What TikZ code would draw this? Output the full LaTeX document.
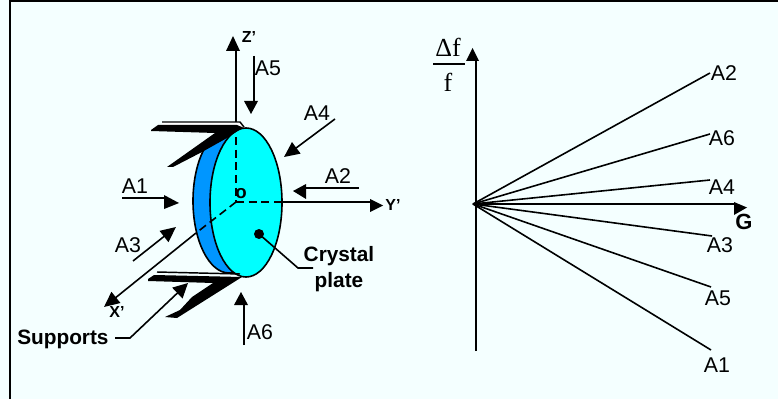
\documentclass[tikz,border=0pt]{standalone}
\usepackage{fontspec}
\setmainfont{Liberation Sans}
\newfontfamily\serifx{Liberation Serif}
\usetikzlibrary{arrows.meta}
\definecolor{bgc}{RGB}{244,255,255}
\definecolor{cyanp}{RGB}{0,255,255}
\definecolor{blueedge}{RGB}{0,150,255}
\newcommand{\headtri}[3]{\fill (#1) -- (#2) -- (#3) -- cycle;}
\tikzset{x=0.75pt,y=-0.75pt,
 lin/.style={line width=1.2pt,-{Triangle[length=11.5pt,width=10.5pt]}},
 lbl/.style={font=\fontsize{16pt}{16pt}\selectfont,inner sep=0pt},
 blbl/.style={font=\fontsize{15.6pt}{19.5pt}\selectfont\bfseries,inner sep=0pt,align=center},
 small/.style={font=\fontsize{12pt}{12pt}\selectfont\bfseries,inner sep=0pt},
 plain/.style={line width=1.2pt},
 dsh/.style={line width=1.2pt,dash pattern=on 6pt off 3.5pt},
 sup/.style={fill=black,draw=none},
 ser/.style={inner sep=0pt,font=\serifx\fontsize{19.5pt}{19.5pt}\selectfont}}
\begin{document}
\begin{tikzpicture}
\useasboundingbox (0,0) rectangle (778,399);
\fill[bgc] (0,0) rectangle (778,399);
\draw[line width=1.3pt] (10,399) -- (10,1) -- (778,1);
% plate
\draw[fill=blueedge,line width=1.2pt] (229,201) ellipse [x radius=36,y radius=72];
\draw[fill=cyanp,line width=1.2pt] (246,202.5) ellipse [x radius=36,y radius=74.5];
% supports top
\fill[white] (162,122) -- (240,122) -- (244,127) -- (237,126) -- (162,126) -- cycle;
\fill[sup] (151,130) -- (158,125) -- (237,125) -- (243,127.5) -- (227,138) -- (202,152) -- (173,167) -- (167,167) -- (215,133) -- (151,131) -- cycle;
\draw[line width=1.1pt] (162,122) -- (240,122) -- (244,127);
% supports bottom
\fill[sup] (148,279) -- (154,275) -- (242,277) -- (177,318) -- (165,317) -- (180,310) -- (192,297) -- (213,283) -- (148,281) -- cycle;
\draw[line width=1.1pt] (157,272) -- (240,274);
% axes
\coordinate (O) at (236,202);
\coordinate (zb) at (236,122);
\coordinate (zt) at (236,50);
\coordinate (zd) at (236,137);
\coordinate (yb) at (282,202);
\coordinate (yt) at (372,202);
\coordinate (xt) at (104,307);
\coordinate (xm) at (196,233);
\draw[dsh] (zd) -- (O);
\draw[dsh] (O) -- (yb);
\draw[dsh] (O) -- (xm);
\draw[plain] (zb) -- (zt);
\headtri{233,36}{226,51}{240,51}
\draw[plain] (yb) -- (yt);
\headtri{383,205.5}{370,199}{370,212}
\draw[lin] (xm) -- (xt);
\node[small] at (249,37) {Z’};
\node[small] at (393,205) {Y’};
\node[small] at (117,312) {X’};
\node[font=\fontsize{14pt}{14pt}\selectfont\bfseries,inner sep=0pt] at (241,193.5) {o};
% direction arrows
\coordinate (a5a) at (254,56); \coordinate (a5b) at (254,103);
\coordinate (a4a) at (335,119); \coordinate (a4b) at (284,157);
\coordinate (a2a) at (359,188); \coordinate (a2b) at (305,188);
\coordinate (a1a) at (122,198); \coordinate (a1b) at (166,198);
\coordinate (a3a) at (133,261); \coordinate (a3b) at (176,227);
\coordinate (a6a) at (244,345); \coordinate (a6b) at (244,304);
\draw[plain] (a5a) -- (a5b);
\headtri{251,114}{244,101}{258,101}
\draw[lin] (a4a) -- (a4b);
\draw[plain] (a2a) -- (a2b);
\headtri{293,191}{306,184}{306,199}
\draw[plain] (a1a) -- (a1b);
\headtri{179,203}{164,195}{164,209}
\draw[lin] (a3a) -- (a3b);
\draw[plain] (a6a) -- (a6b);
\headtri{241,292}{234,305}{248,305}
\node[lbl] at (268,68) {A5};
\node[lbl] at (317,113) {A4};
\node[lbl] at (338,176) {A2};
\node[lbl] at (135,186) {A1};
\node[lbl] at (128,245) {A3};
\node[lbl] at (260,332) {A6};
% crystal label
\node[blbl] (cp) at (339,269) {Crystal\\plate};
\coordinate (cl) at (313,268);
\coordinate (cm) at (298,268);
\coordinate (blob) at (259,234);
\fill (blob) circle (5);
\draw[plain] (blob) -- (cm) -- (cl);
% supports label
\node[blbl,anchor=west] (sl) at (17,339) {Supports};
\coordinate (s1) at (115,338);
\coordinate (s2) at (130,338);
\coordinate (s3) at (188,283);
\draw[plain,-{Triangle[length=11pt,width=11pt]}] (s1) -- (s2) -- (s3);
% graph
\coordinate (G) at (473,204);
\coordinate (gt) at (476,60);
\coordinate (gb) at (476,351);
\coordinate (gr) at (736,204);
\draw[plain] (gb) -- (gt);
\headtri{472.5,48}{466,61}{479,61}
\draw[plain] (G) -- (gr);
\headtri{747,207.5}{734,202}{734,215}
\foreach \x/\y in {710/73,710/134,710/180,712/236,711/287,711/350}{\draw[plain] (G) -- (\x,\y);}
\node[lbl] at (724,73) {A2};
\node[lbl] at (722,138) {A6};
\node[lbl] at (722,187) {A4};
\node[lbl] at (720,245) {A3};
\node[lbl] at (718,298) {A5};
\node[lbl] at (717,365) {A1};
\node[font=\fontsize{16.5pt}{16.5pt}\selectfont\bfseries,inner sep=0pt] at (744,222) {G};
\node[ser] at (448,47) {Δf};
\draw[line width=1.1pt] (433,64) -- (465,64);
\node[ser] at (448,82) {f};
\end{tikzpicture}
\end{document}
